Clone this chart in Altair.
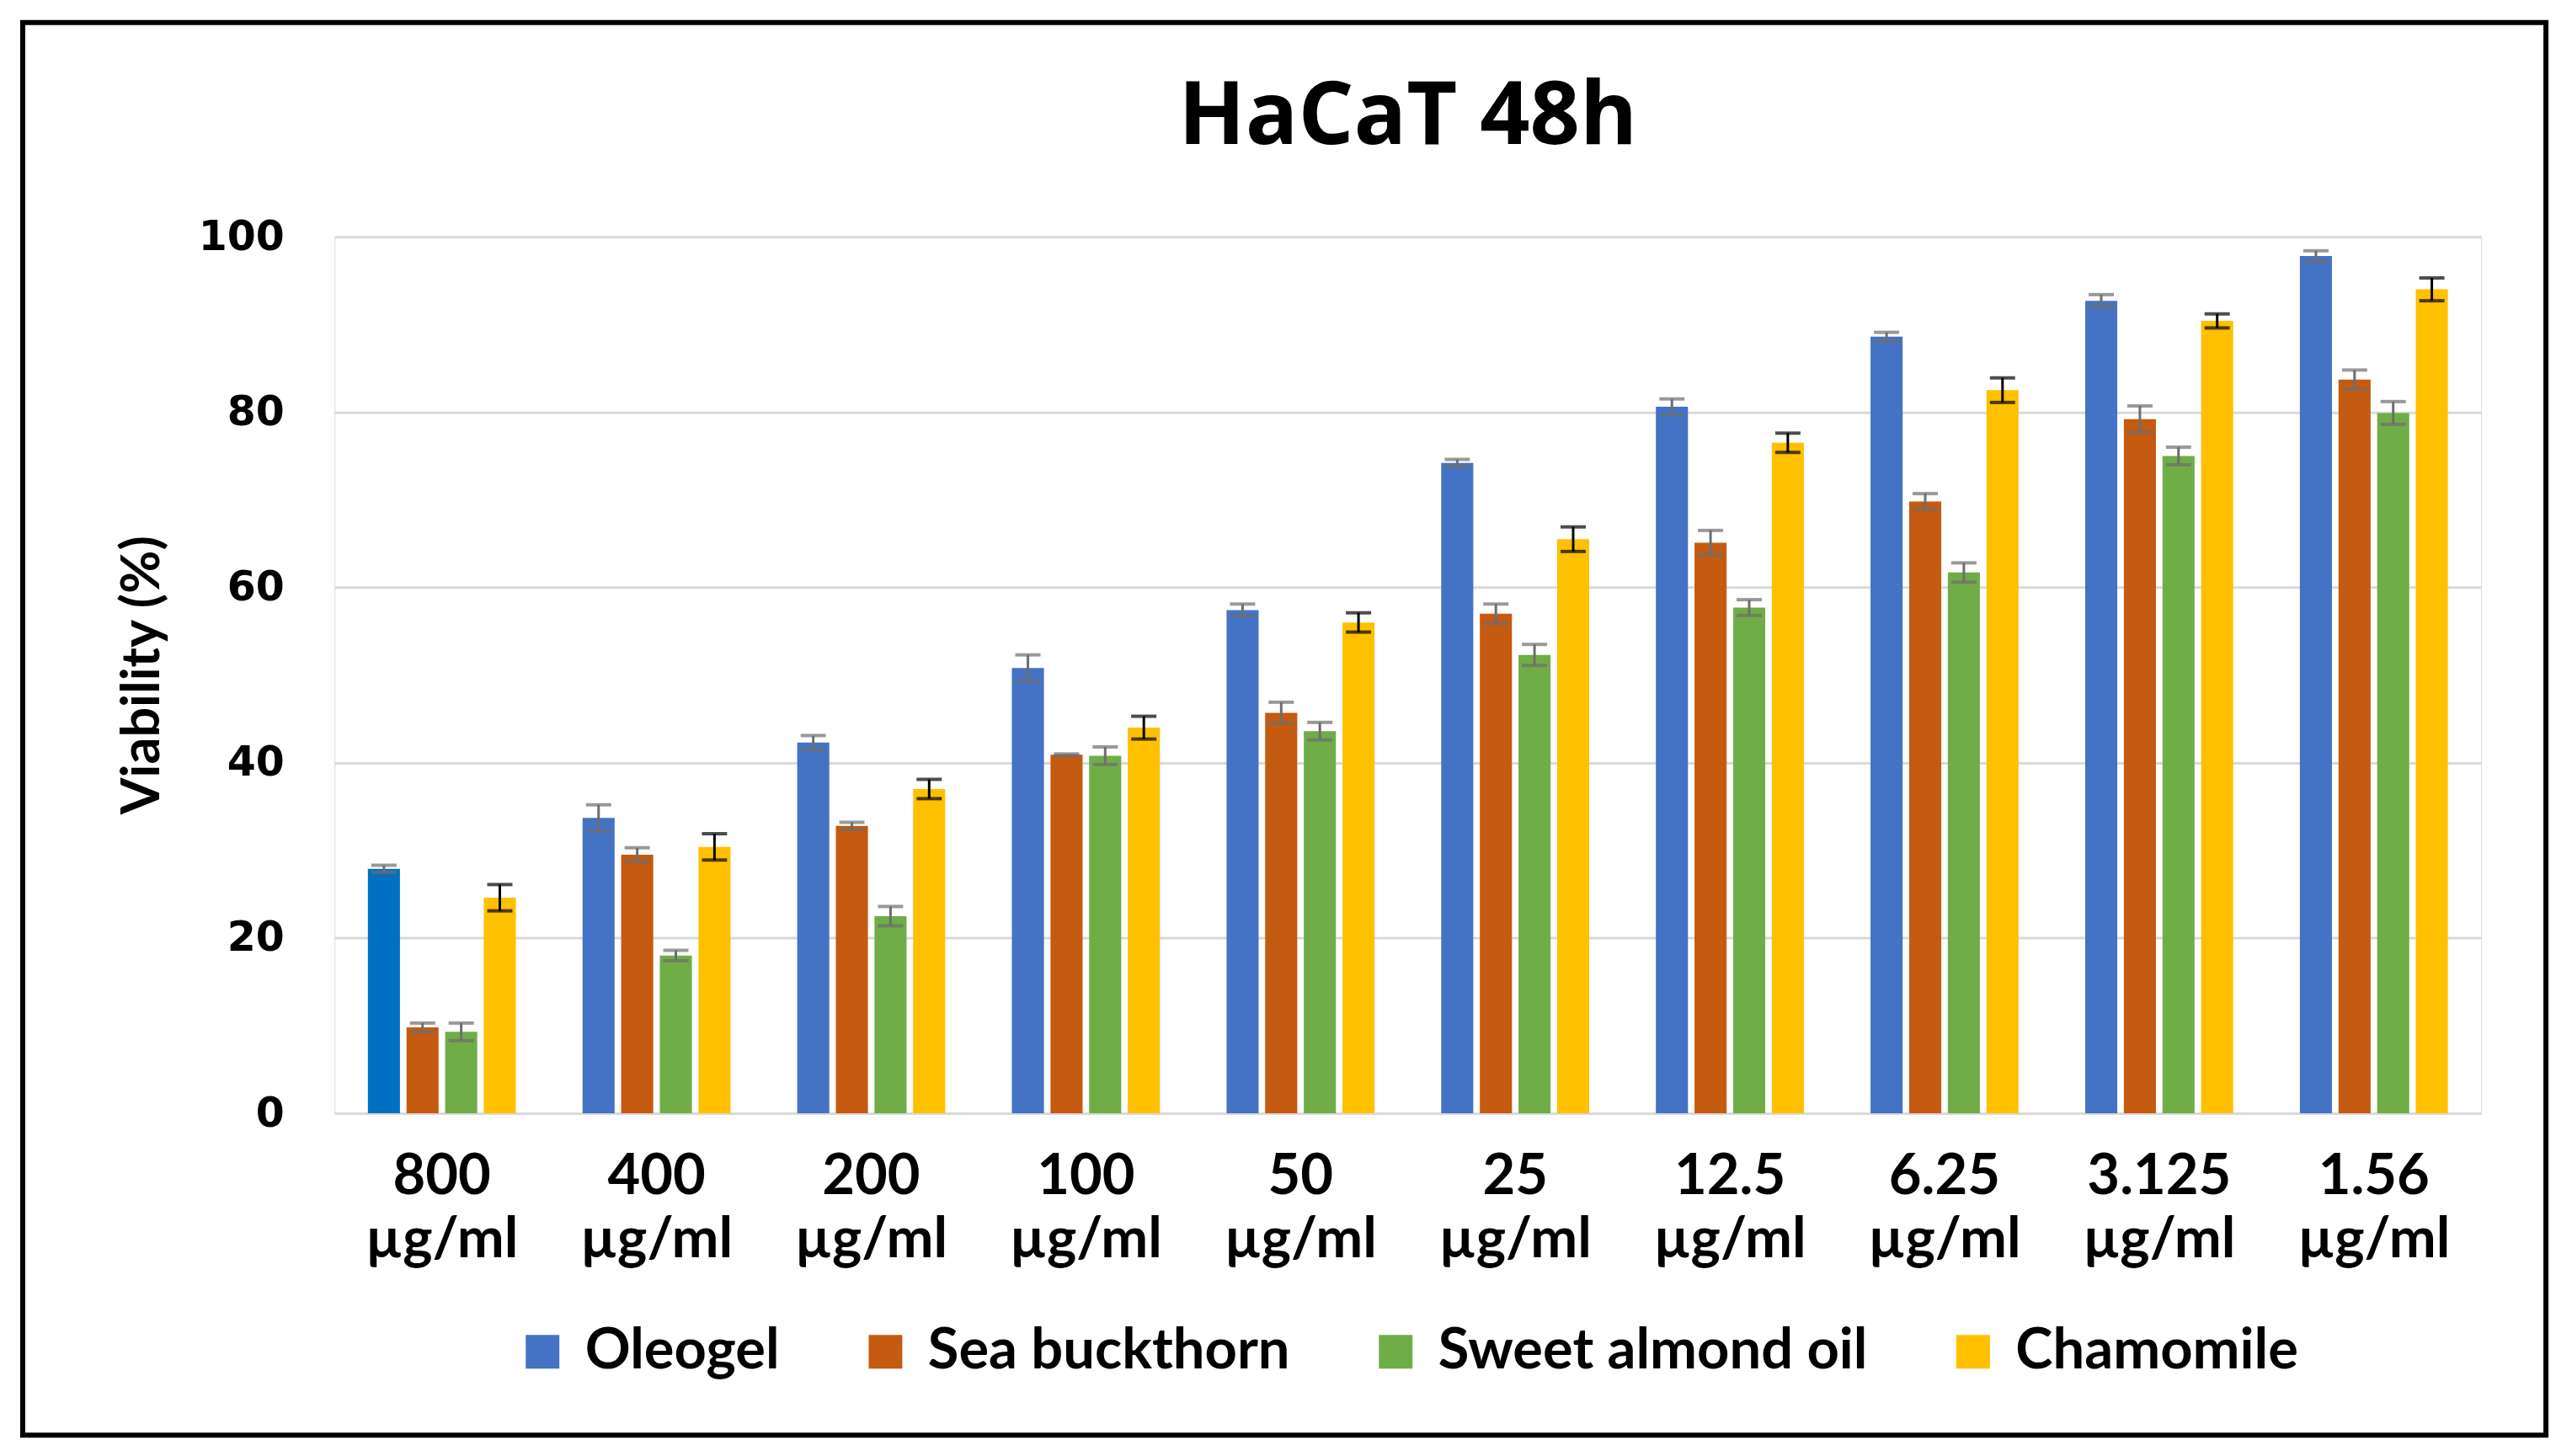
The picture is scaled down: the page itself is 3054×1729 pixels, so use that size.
import altair as alt
import pandas as pd

conc = ["800", "400", "200", "100", "50", "25", "12.5", "6.25", "3.125", "1.56"]
series = ["Oleogel", "Sea buckthorn", "Sweet almond oil", "Chamomile"]
colors = ["#4472C4", "#C55A11", "#70AD47", "#FFC000"]

oleogel = [27.9, 33.7, 42.3, 50.8, 57.4, 74.2, 80.6, 88.6, 92.7, 97.8]
oleogel_err = [0.4, 1.5, 0.8, 1.5, 0.7, 0.4, 0.9, 0.5, 0.7, 0.6]
sea = [9.8, 29.5, 32.8, 40.9, 45.7, 57.0, 65.1, 69.8, 79.2, 83.7]
sea_err = [0.5, 0.8, 0.4, 0.1, 1.2, 1.1, 1.4, 0.9, 1.5, 1.1]
almond = [9.3, 18.0, 22.5, 40.8, 43.6, 52.3, 57.7, 61.7, 75.0, 79.9]
almond_err = [1.0, 0.6, 1.1, 1.0, 1.0, 1.2, 0.9, 1.1, 1.0, 1.3]
chamomile = [24.6, 30.4, 37.0, 44.0, 56.0, 65.5, 76.5, 82.5, 90.4, 94.0]
chamomile_err = [1.5, 1.5, 1.1, 1.3, 1.1, 1.4, 1.1, 1.4, 0.8, 1.3]

err_colors = ["#6e6e6e", "#6e6e6e", "#6e6e6e", "#000000"]

rows = []
for s, vals, errs, ec in zip(series,
                             [oleogel, sea, almond, chamomile],
                             [oleogel_err, sea_err, almond_err, chamomile_err],
                             err_colors):
    for c, v, e in zip(conc, vals, errs):
        rows.append({"conc": c, "series": s, "value": v,
                     "lo": v - e, "hi": v + e, "ecolor": ec})
df = pd.DataFrame(rows)

W, H = 2554, 1043

x_enc = alt.X("conc:N", sort=conc, title=None,
              scale=alt.Scale(paddingInner=0.28, paddingOuter=0.14),
              axis=alt.Axis(labelExpr="[datum.label, 'µg/ml']",
                            labelFont="Lato", labelFontWeight="bold",
                            labelFontSize=67, labelLineHeight=75,
                            labelColor="#000000", labelBaseline="top",
                            labelPadding=43, labelAngle=0, labelLimit=500,
                            ticks=False, domain=False, grid=False))
xo_enc = alt.XOffset("series:N", sort=series,
                     scale=alt.Scale(paddingInner=0.17, paddingOuter=0.085))

bars = alt.Chart(df).mark_bar().encode(
    x=x_enc,
    xOffset=xo_enc,
    y=alt.Y("value:Q", title="Viability (%)",
            scale=alt.Scale(domain=[0, 100], nice=False),
            axis=alt.Axis(values=[0, 20, 40, 60, 80, 100],
                          labelFont="DejaVu Sans", labelFontWeight="bold",
                          labelFontSize=49, labelColor="#000000",
                          labelPadding=60, ticks=False, domain=False,
                          grid=True, gridColor="#d9d9d9", gridWidth=3,
                          titleFont="Lato", titleFontWeight="bold",
                          titleFontSize=63, titleColor="#000000",
                          titleAngle=270, titleX=-228, titleY=521,
                          titleAlign="center", titleBaseline="middle")),
    color=alt.condition(
        "datum.conc == '800' && datum.series == 'Oleogel'",
        alt.value("#0070C0"),
        alt.Color("series:N", sort=series,
                  scale=alt.Scale(domain=series, range=colors),
                  legend=alt.Legend(title=None, orient="none",
                                    direction="horizontal",
                                    legendX=214, legendY=1293,
                                    symbolType="square", symbolSize=1600,
                                    symbolStrokeWidth=0,
                                    labelFont="Lato", labelFontWeight="bold",
                                    labelFontSize=67, labelColor="#000000",
                                    labelLimit=1000, labelOffset=17,
                                    columnPadding=92)))
)

rule = alt.Chart(df).mark_rule(strokeWidth=3).encode(
    x=alt.X("conc:N", sort=conc),
    xOffset=alt.XOffset("series:N", sort=series),
    y="lo:Q", y2="hi:Q",
    color=alt.Color("ecolor:N", scale=None, legend=None),
)
cap_hi = alt.Chart(df).mark_tick(size=30, thickness=4).encode(
    x=alt.X("conc:N", sort=conc),
    xOffset=alt.XOffset("series:N", sort=series),
    y="hi:Q",
    color=alt.Color("ecolor:N", scale=None, legend=None),
)
cap_lo = alt.Chart(df).mark_tick(size=30, thickness=4).encode(
    x=alt.X("conc:N", sort=conc),
    xOffset=alt.XOffset("series:N", sort=series),
    y="lo:Q",
    color=alt.Color("ecolor:N", scale=None, legend=None),
)

frame = alt.Chart(alt.Data(values=[{"a": 1}])).mark_rect(
    filled=False, stroke="#000000", strokeWidth=6, clip=False
).encode(x=alt.value(-371), x2=alt.value(2631),
         y=alt.value(-255), y2=alt.value(1426))

chart = alt.layer(bars, rule, cap_hi, cap_lo, frame).properties(
    width=W, height=H,
    title=alt.TitleParams("HaCaT 48h", font="Open Sans", fontWeight="bold",
                          fontSize=104, color="#000000", anchor="middle",
                          offset=85, dy=255),
    autosize=alt.AutoSizeParams(type="none"),
    padding={"left": 390, "top": 272, "right": 100, "bottom": 400},
).configure_view(stroke="#7f7f7f", strokeWidth=5).configure(background="white")

chart.save("out.html", embed_options={"renderer": "svg", "actions": False})
